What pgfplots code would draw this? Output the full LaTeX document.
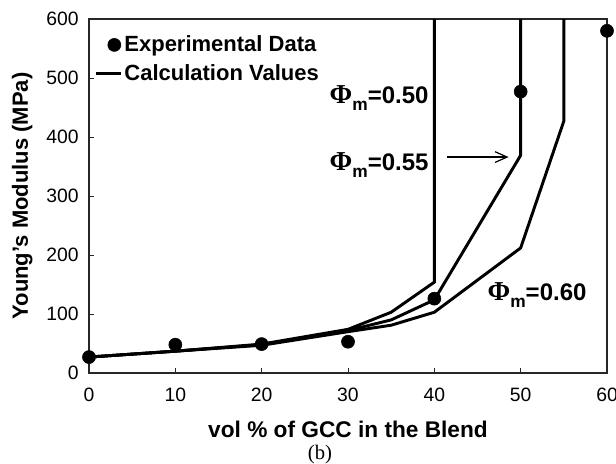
\documentclass[border=0pt]{standalone}
\usepackage{fontspec}
\setmainfont{Liberation Sans}
\newfontfamily\serif{Liberation Serif}
\usepackage{pgfplots}
\pgfplotsset{compat=1.18}
\usetikzlibrary{arrows.meta}

% label of the form  Phi_m = value
\newcommand{\phim}[1]{{\serif\bfseries\fontsize{20.5}{20.5}\selectfont Φ}\raisebox{-0.55ex}{\fontsize{13}{13}\selectfont m}=#1}

\pgfplotsset{
  dot legend/.style={legend image code/.code={\draw[##1] plot coordinates {(13.5pt,0pt)};}},
  bar legend line/.style={legend image code/.code={\draw[##1, line width=1.6pt] (0pt,0pt) -- (18.75pt,0pt);}},
}

\begin{document}
\begin{tikzpicture}
\begin{axis}[
  scale only axis, width=388.5pt, height=265.5pt,
  xmin=0, xmax=60, ymin=0, ymax=600,
  xtick={0,10,...,60}, ytick={0,100,...,600},
  tick align=inside, tick pos=left, major tick length=4pt,
  axis line style={line width=0.8pt, black!85},
  every tick/.style={line width=0.6pt, black!85},
  tick label style={font=\fontsize{14.5}{14.5}\selectfont, inner sep=0pt},
  /pgf/number format/assume math mode=true,
  xticklabel shift=11pt, yticklabel shift=7.5pt,
  xlabel={vol \% of GCC in the Blend},
  ylabel={Young's Modulus (MPa)},
  label style={font=\bfseries\fontsize{16.5}{16.5}\selectfont},
  xlabel style={font=\bfseries\fontsize{17}{17}\selectfont,
    at={(axis description cs:0.5,0)}, anchor=base, yshift=-48pt},
  ylabel style={at={(axis description cs:-0.129,0.5)}, anchor=center},
  clip mode=individual,
  legend style={at={(rel axis cs:0,1)}, anchor=north west, xshift=4.5pt, yshift=-12.5pt,
    draw=none, fill=none, inner sep=0pt, row sep=8pt,
    font=\bfseries\fontsize{16.5}{16.5}\selectfont,
    nodes={inner xsep=1.5pt, inner ysep=0pt}},
  legend cell align=left,
]
\coordinate (sw) at (rel axis cs:0,0);
\coordinate (ne) at (rel axis cs:1,1);

\addplot[only marks, mark=*, mark size=4.9pt, black, dot legend]
  coordinates {(0,27) (10,48) (20,49) (30,53) (40,126) (50,477) (60,580)};
\addlegendentry{Experimental Data}

% Phi_m = 0.50
\addplot[black, line width=2.2pt, line join=miter, bar legend line]
  coordinates {(0,27) (10,37) (20,49) (30,74) (35,103) (40,154) (40,700)};
\addlegendentry{Calculation Values}

% Phi_m = 0.55
\addplot[black, line width=2.2pt, line join=miter, forget plot]
  coordinates {(0,27) (10,37) (20,48) (30,72) (35,90) (40,124) (50,369) (50,700)};

% Phi_m = 0.60
\addplot[black, line width=2.2pt, line join=miter, forget plot]
  coordinates {(0,27) (10,37) (20,47) (30,70) (35,81) (40,103) (50,212) (55,427) (55,700)};

\node[font=\bfseries\fontsize{18}{18}\selectfont] at (axis cs:33.6,466) {\phim{0.50}};
\node[font=\bfseries\fontsize{18}{18}\selectfont] at (axis cs:33.6,352) {\phim{0.55}};
\node[font=\bfseries\fontsize{18}{18}\selectfont] at (axis cs:51.9,132) {\phim{0.60}};
\draw[line width=0.9pt, -{Straight Barb[length=9pt, width=8pt, line width=0.9pt]}]
  (axis cs:41.5,366) -- (axis cs:48.6,366);

\node[font=\serif\fontsize{15.5}{15.5}\selectfont, anchor=base]
  at (axis description cs:0.446,-0.243) {(b)};
\end{axis}
\pgfresetboundingbox
\path[use as bounding box] ([shift={(-66.75pt,-67.5pt)}]sw) rectangle ([shift={(6.75pt,14.25pt)}]ne);
\end{tikzpicture}
\end{document}
